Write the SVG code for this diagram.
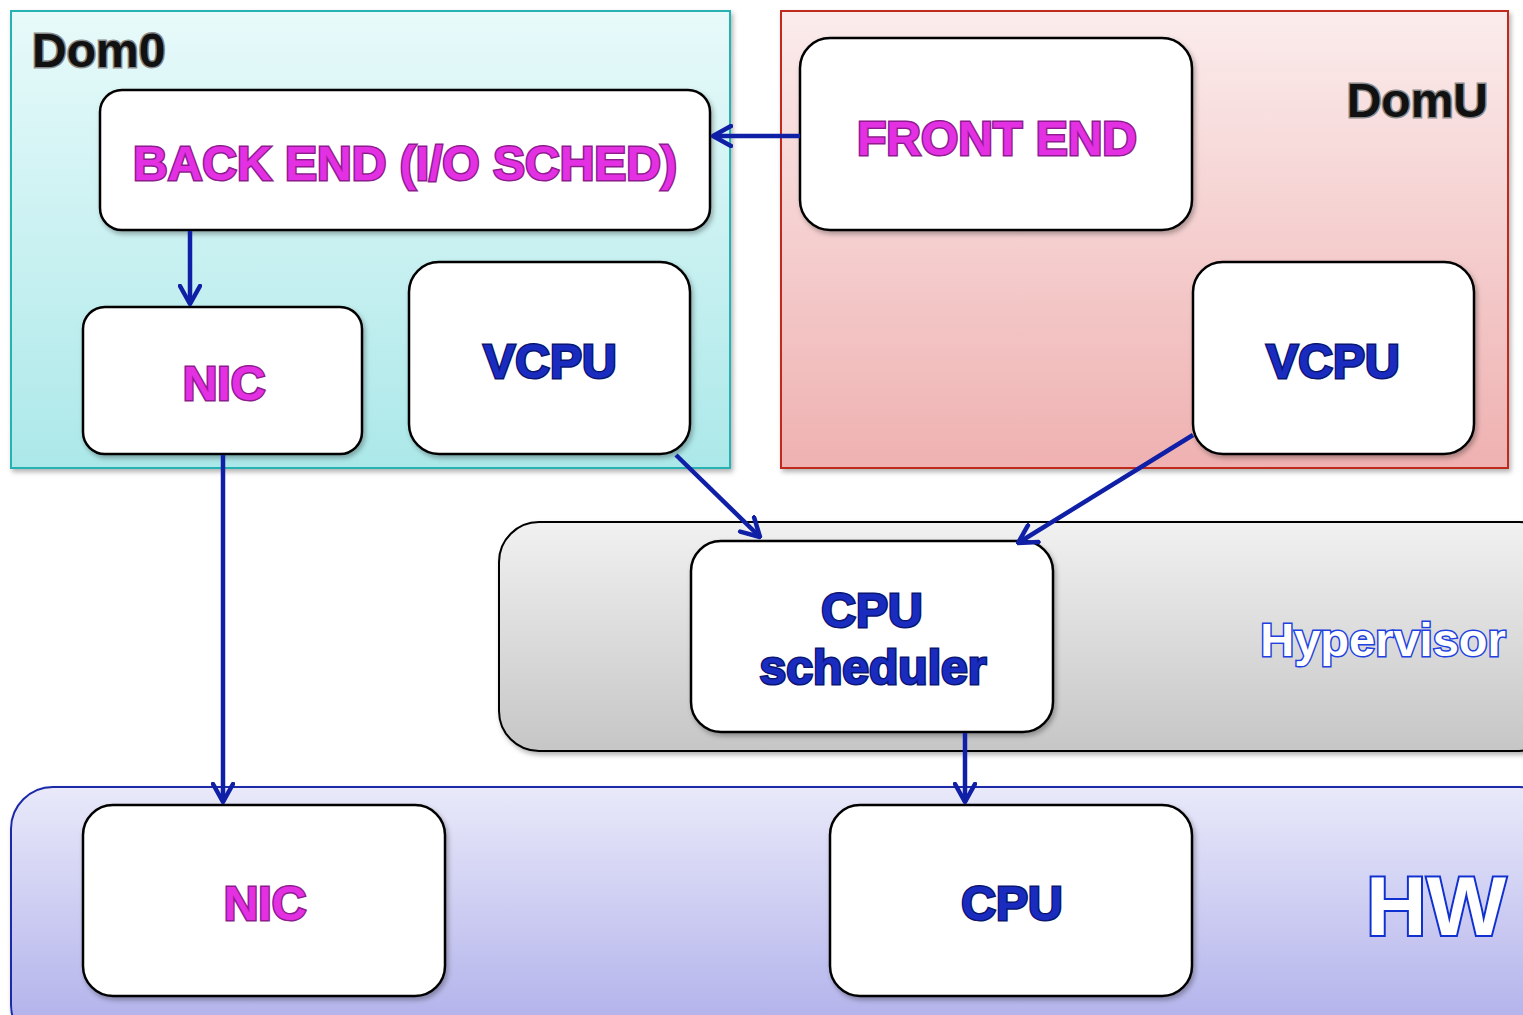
<svg xmlns="http://www.w3.org/2000/svg" width="1523" height="1015" viewBox="0 0 1523 1015">
<defs>
<linearGradient id="gDom0" x1="0" y1="0" x2="0" y2="1"><stop offset="0" stop-color="#e8fafa"/><stop offset="1" stop-color="#ace8e9"/></linearGradient>
<linearGradient id="gDomU" x1="0" y1="0" x2="0" y2="1"><stop offset="0" stop-color="#fbecec"/><stop offset="1" stop-color="#efb1b1"/></linearGradient>
<linearGradient id="gHyp" x1="0" y1="0" x2="0" y2="1"><stop offset="0" stop-color="#f1f1f1"/><stop offset="1" stop-color="#c6c6c6"/></linearGradient>
<linearGradient id="gHW" x1="0" y1="0" x2="0" y2="1"><stop offset="0" stop-color="#e9e9fa"/><stop offset="1" stop-color="#adadea"/></linearGradient>
<filter id="sh" x="-5%" y="-5%" width="110%" height="115%"><feDropShadow dx="2" dy="3" stdDeviation="2.5" flood-color="#000" flood-opacity="0.3"/></filter>
<marker id="ah" viewBox="0 0 22 24" refX="20" refY="12" markerWidth="22" markerHeight="24" markerUnits="userSpaceOnUse" orient="auto">
<path d="M2,2 L20,12 L2,22" fill="none" stroke="#1020a6" stroke-width="4.5" stroke-linecap="round" stroke-linejoin="round"/>
</marker>
</defs>
<style>
.box{fill:#fff;stroke:#000;stroke-width:2.5}
.mag{font-family:"Liberation Sans",Arial,sans-serif;font-weight:bold;font-size:48px;fill:#e230e2;stroke:#8e1c8e;stroke-width:3;paint-order:stroke;text-anchor:middle}
.blu{font-family:"Liberation Sans",Arial,sans-serif;font-weight:bold;font-size:48px;fill:#1a2cc0;stroke:#0a1670;stroke-width:3;paint-order:stroke;text-anchor:middle}
.dom{font-family:"Liberation Sans",Arial,sans-serif;font-weight:bold;font-size:48px;fill:#111;stroke:#8a8a8a;stroke-width:3;paint-order:stroke}
.out{font-family:"Liberation Sans",Arial,sans-serif;font-weight:bold;fill:#fff;stroke:#2040e0;stroke-width:3;paint-order:stroke}
.conn{fill:none;stroke:#1020a6;stroke-width:4.5;marker-end:url(#ah)}
</style>
<g id="dom0">
<rect x="11" y="11" width="719" height="457" fill="url(#gDom0)" stroke="#26b2b2" stroke-width="2" filter="url(#sh)"/>
<text class="dom" x="32" y="67">Dom0</text>
</g>
<g id="domU">
<rect x="781" y="11" width="727" height="457" fill="url(#gDomU)" stroke="#c02a1e" stroke-width="2" filter="url(#sh)"/>
<text class="dom" x="1488" y="117" text-anchor="end">DomU</text>
</g>
<g id="hypervisor">
<rect x="499" y="522" width="1060" height="229" rx="40" fill="url(#gHyp)" stroke="#000" stroke-width="2" filter="url(#sh)"/>
<text class="out" x="1383" y="656" font-size="47" text-anchor="middle">Hypervisor</text>
</g>
<g id="hw">
<rect x="11" y="787" width="1550" height="260" rx="42" fill="url(#gHW)" stroke="#1a2aa8" stroke-width="2" filter="url(#sh)"/>
<text class="out" x="1436" y="935" font-size="84" text-anchor="middle" style="stroke:#1030d0;stroke-width:4">HW</text>
</g>
<g id="backend">
<rect class="box" x="100" y="90" width="610" height="140" rx="22" filter="url(#sh)"/>
<text class="mag" x="405" y="180">BACK END (I/O SCHED)</text>
</g>
<g id="frontend">
<rect class="box" x="800" y="38" width="392" height="192" rx="30" filter="url(#sh)"/>
<text class="mag" x="997" y="155">FRONT END</text>
</g>
<g id="nic0">
<rect class="box" x="83" y="307" width="279" height="147" rx="22" filter="url(#sh)"/>
<text class="mag" x="224" y="400">NIC</text>
</g>
<g id="vcpu0">
<rect class="box" x="409" y="262" width="281" height="192" rx="30" filter="url(#sh)"/>
<text class="blu" x="550" y="378">VCPU</text>
</g>
<g id="vcpuU">
<rect class="box" x="1193" y="262" width="281" height="192" rx="30" filter="url(#sh)"/>
<text class="blu" x="1333" y="378">VCPU</text>
</g>
<g id="scheduler">
<rect class="box" x="691" y="541" width="362" height="191" rx="30" filter="url(#sh)"/>
<text class="blu" x="872" y="627">CPU</text>
<text class="blu" x="873" y="684">scheduler</text>
</g>
<g id="nichw">
<rect class="box" x="83" y="805" width="362" height="191" rx="30" filter="url(#sh)"/>
<text class="mag" x="265" y="920">NIC</text>
</g>
<g id="cpuhw">
<rect class="box" x="830" y="805" width="362" height="191" rx="30" filter="url(#sh)"/>
<text class="blu" x="1012" y="920">CPU</text>
</g>
<g id="connectors">
<line class="conn" x1="800" y1="136" x2="713" y2="136"/>
<line class="conn" x1="190" y1="231" x2="190" y2="304"/>
<line class="conn" x1="223" y1="455" x2="223" y2="802"/>
<line class="conn" x1="676" y1="455" x2="760" y2="537"/>
<line class="conn" x1="1193" y1="435" x2="1018" y2="543"/>
<line class="conn" x1="965" y1="733" x2="965" y2="802"/>
</g>
</svg>
